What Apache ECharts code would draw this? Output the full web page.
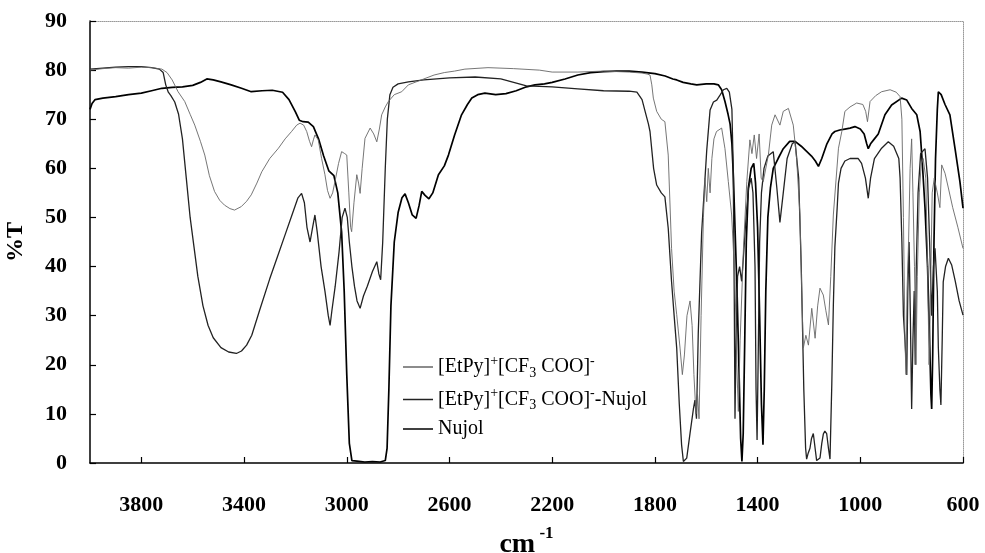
<!DOCTYPE html>
<html>
<head>
<meta charset="utf-8">
<script src="https://cdn.jsdelivr.net/npm/echarts@6/dist/echarts.min.js"></script>
<style>
html, body { margin: 0; padding: 0; background: #fff; }
#chart { width: 985px; height: 553px; }
</style>
</head>
<body>
<div id="chart"></div>
<script>
// wavenumber (cm-1) / %T pairs
var ilName = '[EtPy]+[CF3COO]-';
var ilNujolName = '[EtPy]+[CF3COO]--Nujol';
var nujolName = 'Nujol';

var ilData = [[4000,80.0],[3950,80.3],[3900,80.5],[3850,80.4],[3800,80.6],[3760,80.5],[3720,80.2],[3700,79.5],[3680,78.0],[3657,75.6],[3631,73.6],[3610,71.0],[3592,68.8],[3570,65.5],[3553,62.7],[3535,58.5],[3515,55.3],[3495,53.5],[3476,52.5],[3455,51.8],[3437,51.5],[3411,52.2],[3390,53.3],[3372,54.6],[3350,57.0],[3331,59.3],[3300,62.0],[3266,64.1],[3240,66.0],[3215,67.5],[3195,68.8],[3182,69.2],[3168,68.8],[3156,67.5],[3145,65.5],[3137,64.4],[3130,65.8],[3124,66.8],[3111,65.8],[3098,62.0],[3085,58.7],[3075,55.5],[3065,53.9],[3055,55.0],[3046,57.3],[3032,61.0],[3020,63.4],[3008,63.0],[3000,62.7],[2992,55.0],[2985,48.0],[2981,47.1],[2972,53.0],[2961,58.7],[2954,57.0],[2948,54.9],[2940,60.0],[2929,66.1],[2909,68.2],[2895,67.0],[2883,65.4],[2873,68.0],[2864,70.9],[2850,72.5],[2838,73.6],[2815,75.0],[2786,75.6],[2760,77.0],[2720,77.8],[2700,78.2],[2660,79.0],[2620,79.5],[2580,79.8],[2540,80.2],[2450,80.5],[2350,80.3],[2250,80.0],[2200,79.6],[2100,79.6],[2000,79.8],[1900,79.6],[1850,79.4],[1830,79.2],[1819,79.0],[1812,77.0],[1806,74.3],[1793,71.6],[1775,70.0],[1761,69.5],[1748,62.7],[1735,43.7],[1725,35.0],[1715,30.2],[1702,23.4],[1693,18.0],[1685,22.0],[1675,30.0],[1663,33.0],[1655,28.0],[1648,18.0],[1640,10.0],[1634,14.0],[1628,9.0],[1620,30.0],[1611,50.0],[1605,58.0],[1598,53.2],[1592,60.0],[1585,55.0],[1578,62.0],[1570,66.0],[1560,67.5],[1540,68.2],[1527,64.0],[1514,57.3],[1501,50.5],[1488,37.0],[1481,20.0],[1475,10.5],[1468,25.0],[1455,43.7],[1442,57.3],[1430,65.8],[1422,63.0],[1413,66.8],[1404,62.0],[1394,67.0],[1386,58.0],[1378,57.3],[1358,62.7],[1345,68.8],[1332,70.9],[1313,68.8],[1300,71.6],[1280,72.2],[1261,68.8],[1248,62.0],[1235,50.5],[1228,35.0],[1222,23.4],[1212,26.0],[1202,24.0],[1189,31.5],[1176,25.4],[1166,32.0],[1157,35.6],[1144,34.2],[1134,31.0],[1124,28.1],[1115,38.0],[1105,50.5],[1085,64.1],[1072,67.5],[1060,71.6],[1040,72.5],[1014,73.3],[990,73.0],[979,71.6],[972,69.5],[962,73.6],[940,74.8],[917,75.6],[884,76.0],[860,75.5],[845,74.6],[838,70.0],[832,50.0],[826,25.0],[822,18.0],[818,35.0],[812,45.0],[806,60.0],[800,66.0],[795,55.0],[789,40.0],[783,20.0],[778,38.0],[770,55.0],[763,60.7],[755,62.0],[745,58.0],[738,40.0],[732,20.0],[728,30.0],[720,55.0],[712,58.0],[700,55.0],[690,52.0],[683,60.7],[670,59.0],[657,56.0],[640,52.0],[620,48.0],[600,43.7]];

var ilNujolData = [[4000,80.2],[3950,80.4],[3900,80.6],[3850,80.7],[3800,80.7],[3760,80.5],[3730,80.2],[3715,79.5],[3705,77.0],[3695,75.5],[3685,74.8],[3670,73.5],[3655,71.0],[3640,66.0],[3625,58.0],[3610,50.0],[3595,44.0],[3580,38.0],[3560,32.0],[3540,28.0],[3520,25.5],[3490,23.5],[3460,22.6],[3430,22.3],[3410,22.8],[3390,24.0],[3370,26.0],[3340,31.0],[3300,37.5],[3270,42.0],[3240,46.5],[3210,51.0],[3190,54.0],[3176,54.9],[3165,53.0],[3155,48.0],[3143,45.0],[3133,48.0],[3124,50.5],[3115,47.0],[3100,40.0],[3085,35.0],[3072,30.0],[3065,28.0],[3058,31.0],[3045,36.0],[3030,43.0],[3018,50.0],[3007,51.9],[2998,50.0],[2990,45.0],[2980,40.0],[2970,36.0],[2960,33.0],[2948,31.5],[2935,34.0],[2920,36.0],[2900,39.0],[2883,41.0],[2875,38.5],[2868,37.3],[2860,45.0],[2850,60.0],[2842,70.0],[2832,75.0],[2820,76.5],[2800,77.2],[2760,77.6],[2700,78.0],[2600,78.4],[2500,78.6],[2400,78.2],[2350,77.5],[2300,76.8],[2200,76.6],[2100,76.2],[2000,75.8],[1900,75.7],[1870,75.5],[1850,74.0],[1835,71.0],[1825,69.0],[1819,67.5],[1805,60.0],[1793,56.6],[1775,55.0],[1761,54.2],[1748,47.8],[1735,36.9],[1725,30.0],[1715,23.4],[1705,12.0],[1696,3.7],[1689,0.3],[1676,1.0],[1663,6.1],[1650,11.0],[1644,12.8],[1638,9.0],[1631,26.5],[1618,46.8],[1598,63.7],[1585,71.9],[1572,73.5],[1559,73.9],[1545,75.0],[1533,76.0],[1520,76.3],[1510,75.5],[1500,72.0],[1495,60.0],[1491,35.0],[1488,9.0],[1484,25.0],[1478,38.0],[1470,40.0],[1462,37.0],[1455,42.0],[1445,50.0],[1435,56.0],[1425,58.0],[1418,55.0],[1410,40.0],[1406,15.0],[1402,4.7],[1398,20.0],[1392,45.0],[1385,55.0],[1375,60.0],[1360,62.5],[1339,63.4],[1325,56.0],[1313,49.0],[1300,55.0],[1285,62.0],[1265,65.0],[1254,65.4],[1240,58.0],[1230,40.0],[1220,15.0],[1213,3.0],[1209,0.8],[1203,2.0],[1196,3.0],[1190,5.0],[1183,6.0],[1176,3.0],[1170,0.5],[1163,0.5],[1157,1.0],[1150,4.0],[1144,5.9],[1138,6.5],[1131,6.0],[1124,3.0],[1118,0.8],[1111,16.0],[1105,32.0],[1099,44.0],[1090,52.0],[1085,57.0],[1075,60.0],[1060,61.5],[1040,62.0],[1008,62.0],[995,61.0],[980,58.0],[969,53.9],[960,58.0],[945,62.0],[917,64.1],[891,65.4],[870,64.5],[850,62.0],[845,58.0],[838,45.0],[832,30.0],[826,25.0],[819,17.9],[815,35.0],[810,45.0],[805,30.0],[800,11.0],[795,25.0],[790,35.0],[786,20.0],[782,40.0],[775,55.0],[765,63.0],[748,64.0],[738,58.0],[730,45.0],[722,30.0],[715,40.0],[709,43.7],[700,35.0],[696,23.4],[690,15.0],[686,11.8],[681,25.0],[677,36.9],[668,40.0],[657,41.7],[644,40.3],[630,37.0],[615,33.0],[600,30.1]];

var nujolData = [[4000,72.0],[3992,73.2],[3980,74.0],[3950,74.3],[3900,74.6],[3850,75.0],[3800,75.3],[3760,75.8],[3720,76.3],[3680,76.5],[3640,76.6],[3600,76.9],[3570,77.5],[3545,78.2],[3520,78.0],[3490,77.6],[3450,77.0],[3410,76.3],[3372,75.6],[3330,75.8],[3290,75.9],[3250,75.5],[3225,74.0],[3200,71.5],[3185,69.8],[3170,69.5],[3150,69.4],[3130,68.5],[3110,66.0],[3090,62.5],[3070,59.5],[3050,58.5],[3035,55.0],[3020,47.0],[3010,35.0],[3000,18.0],[2990,4.0],[2980,0.5],[2960,0.4],[2930,0.2],[2900,0.3],[2870,0.2],[2850,0.5],[2843,3.0],[2836,15.0],[2828,32.0],[2815,45.0],[2800,51.0],[2785,54.0],[2773,54.8],[2760,53.0],[2745,50.5],[2730,49.8],[2718,52.5],[2708,55.3],[2695,54.5],[2680,53.8],[2665,55.0],[2643,58.7],[2620,60.5],[2604,62.7],[2580,66.8],[2553,70.9],[2530,73.0],[2513,74.3],[2490,75.0],[2462,75.3],[2420,75.0],[2380,75.2],[2340,75.8],[2300,76.6],[2267,77.0],[2230,77.2],[2200,77.5],[2150,78.2],[2100,79.0],[2050,79.5],[2000,79.7],[1950,79.8],[1900,79.8],[1850,79.6],[1800,79.3],[1760,78.8],[1730,78.2],[1715,78.0],[1690,77.5],[1660,77.2],[1637,77.0],[1600,77.2],[1570,77.2],[1553,77.0],[1540,76.0],[1527,73.6],[1515,71.0],[1507,69.0],[1500,65.0],[1494,58.0],[1488,48.0],[1480,35.0],[1472,18.0],[1466,5.0],[1461,0.3],[1456,6.0],[1450,25.0],[1444,45.0],[1436,56.0],[1425,60.0],[1415,61.0],[1408,57.0],[1400,48.0],[1392,30.0],[1385,12.0],[1379,3.7],[1374,15.0],[1368,35.0],[1360,50.0],[1350,56.0],[1339,60.0],[1320,62.0],[1300,64.0],[1275,65.5],[1254,65.5],[1230,64.5],[1210,63.5],[1190,62.5],[1175,61.5],[1163,60.4],[1150,62.0],[1130,65.0],[1110,67.0],[1099,67.5],[1080,67.8],[1060,68.0],[1040,68.2],[1021,68.5],[1000,68.0],[985,67.0],[975,65.0],[969,64.0],[960,65.0],[945,66.0],[930,67.0],[904,70.9],[878,72.9],[839,74.3],[819,73.9],[800,72.2],[780,70.9],[767,67.5],[758,60.7],[748,52.0],[738,40.0],[730,25.0],[725,14.0],[722,11.0],[718,22.0],[713,45.0],[707,62.0],[700,72.0],[696,75.6],[685,75.0],[670,73.0],[651,70.9],[631,64.0],[612,57.3],[600,51.9]];

var legendText = {};
legendText[ilName] = '{t|[EtPy]}{sup|+}{t|[CF}{sub|3}{t| COO]}{sup|-}';
legendText[ilNujolName] = '{t|[EtPy]}{sup|+}{t|[CF}{sub|3}{t| COO]}{sup|-}{t|-Nujol}';
legendText[nujolName] = '{t|Nujol}';

var serif = 'Liberation Serif';

var chart = echarts.init(document.getElementById('chart'));
var option = {
  backgroundColor: '#fff',
  animation: false,
  grid: { left: 90, right: 22, top: 21, bottom: 90, outerBoundsMode: 'none' },
  legend: {
    orient: 'vertical',
    left: 398,
    top: 349,
    icon: 'rect',
    itemWidth: 30,
    itemHeight: 1.5,
    itemGap: 6.5,
    data: [ilName, ilNujolName, nujolName],
    formatter: function (name) { return legendText[name]; },
    textStyle: {
      fontFamily: serif,
      color: '#000',
      rich: {
        t: { fontFamily: serif, fontSize: 20, lineHeight: 26, color: '#000' },
        sup: { fontFamily: serif, fontSize: 14, lineHeight: 12, verticalAlign: 'top', color: '#000' },
        sub: { fontFamily: serif, fontSize: 14, lineHeight: 12, verticalAlign: 'bottom', color: '#000' }
      }
    }
  },
  xAxis: [{
    type: 'value',
    inverse: true,
    min: 600,
    max: 4000,
    interval: 400,
    name: '{a|cm}{b| -1}',
    nameLocation: 'middle',
    nameGap: 62,
    nameMoveOverlap: false,
    nameTextStyle: {
      rich: {
        a: { fontFamily: serif, fontWeight: 'bold', fontSize: 28, color: '#000', verticalAlign: 'bottom', lineHeight: 34 },
        b: { fontFamily: serif, fontWeight: 'bold', fontSize: 17, color: '#000', verticalAlign: 'top', lineHeight: 16 }
      }
    },
    axisLine: { onZero: false, lineStyle: { color: '#000', width: 1.5 } },
    axisTick: { inside: true, length: 6, lineStyle: { color: '#000', width: 1.2 } },
    axisLabel: {
      showMaxLabel: false,
      margin: 31,
      fontFamily: serif,
      fontWeight: 'bold',
      fontSize: 22,
      color: '#000',
      formatter: function (v) { return String(v); }
    },
    splitLine: { show: false }
  }, {
    type: 'value',
    inverse: true,
    min: 600,
    max: 4000,
    position: 'top',
    axisLine: { show: true, onZero: false, lineStyle: { color: '#999', width: 1, type: 'dotted' } },
    axisTick: { show: false },
    axisLabel: { show: false },
    splitLine: { show: false }
  }],
  yAxis: [{
    type: 'value',
    min: 0,
    max: 90,
    interval: 10,
    name: '%T',
    nameLocation: 'middle',
    nameRotate: 90,
    nameGap: 62,
    nameMoveOverlap: false,
    nameTextStyle: { fontFamily: serif, fontWeight: 'bold', fontSize: 24, color: '#000' },
    axisLine: { show: true, onZero: false, lineStyle: { color: '#000', width: 1.5 } },
    axisTick: { show: true, inside: true, length: 6, lineStyle: { color: '#000', width: 1.2 } },
    axisLabel: { margin: 23, fontFamily: serif, fontWeight: 'bold', fontSize: 22, color: '#000' },
    splitLine: { show: false }
  }, {
    type: 'value',
    min: 0,
    max: 90,
    position: 'right',
    axisLine: { show: true, onZero: false, lineStyle: { color: '#999', width: 1, type: 'dotted' } },
    axisTick: { show: false },
    axisLabel: { show: false },
    splitLine: { show: false }
  }],
  series: [{
    name: ilName,
    type: 'line',
    symbol: 'none',
    data: ilData,
    lineStyle: { color: '#666', width: 0.9 },
    itemStyle: { color: '#666' },
    z: 3
  }, {
    name: ilNujolName,
    type: 'line',
    symbol: 'none',
    data: ilNujolData,
    lineStyle: { color: '#222', width: 1.3 },
    itemStyle: { color: '#222' },
    z: 2
  }, {
    name: nujolName,
    type: 'line',
    symbol: 'none',
    data: nujolData,
    lineStyle: { color: '#000', width: 1.7 },
    itemStyle: { color: '#000' },
    z: 1
  }]
};
chart.setOption(option);
</script>
</body>
</html>
